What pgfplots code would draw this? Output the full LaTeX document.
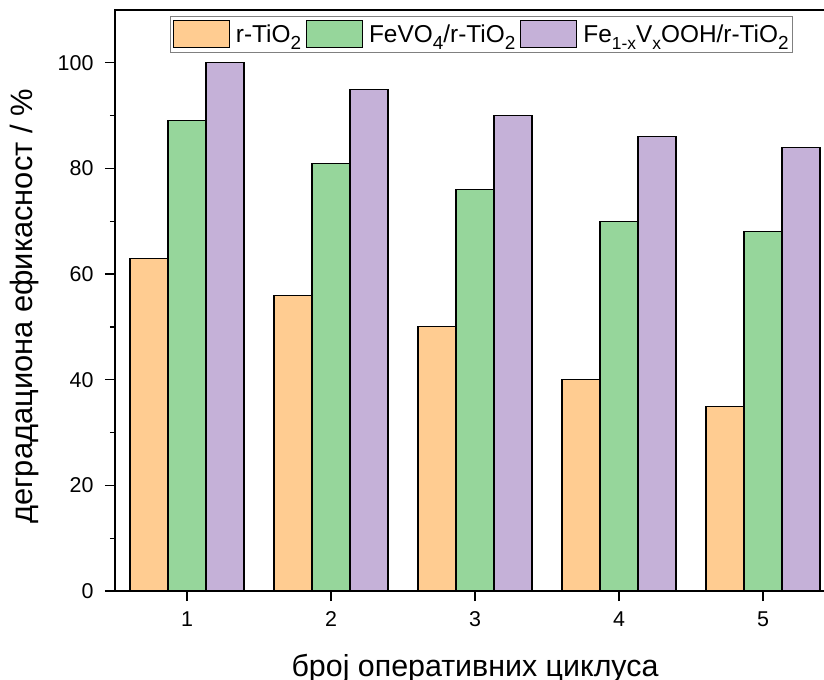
\documentclass[border=0pt]{standalone}
\usepackage{pgfplots}
\pgfplotsset{compat=1.18}
\usepackage{fontspec}
\setmainfont{Liberation Sans}
\definecolor{cor}{RGB}{255,204,145}
\definecolor{cgr}{RGB}{150,214,155}
\definecolor{cpu}{RGB}{197,177,216}
\newcommand{\sub}[1]{\raisebox{-0.3em}{\fontsize{19}{19}\selectfont #1}}
\newcommand{\subs}[1]{\raisebox{-0.3em}{\fontsize{17.5}{17.5}\selectfont #1}}
\begin{document}
\begin{tikzpicture}
\begin{axis}[
  at={(0,0)}, anchor=south west,
  scale only axis,
  width=720bp, height=581bp,
  xmin=0.5, xmax=5.5, ymin=0, ymax=110,
  xtick={1,2,3,4,5},
  ytick={0,20,40,60,80,100},
  minor ytick={10,30,50,70,90},
  xtick pos=bottom, ytick pos=left,
  tick align=outside,
  major tick length=10bp, minor tick length=5bp,
  every tick/.style={black, line width=1.2bp},
  axis line style={black, line width=1.3bp},
  /pgf/number format/assume math mode=true,
  tick label style={font=\fontsize{21.5}{25}\selectfont},
  xticklabel style={yshift=-7bp},
  yticklabel style={xshift=-8bp},
  xlabel={броj оперативних циклуса},
  ylabel={деградациона ефикасност / \%},
  xlabel style={font=\fontsize{30.5}{34}\selectfont, at={(axis description cs:0.5,-0.148)}, anchor=base},
  ylabel style={font=\fontsize{31}{34}\selectfont, at={(axis description cs:-0.114,0.49)}, anchor=base, rotate=0},
  ybar, bar width=0.264,
  legend columns=3,
  legend style={at={(0.9417,0.990)}, anchor=north east, draw=gray, line width=0.8bp,
    font=\fontsize{24.5}{27}\selectfont, inner xsep=2bp, inner ysep=4bp,
    nodes={inner xsep=2bp, inner ysep=1bp},
    /tikz/every odd column/.append style={column sep=4bp},
    /tikz/every even column/.append style={column sep=3bp}},
  legend image code/.code={\draw[#1, line width=1bp] (0bp,-13.5bp) rectangle (56bp,13.5bp);},
]
\addplot[fill=cor, draw=black, line width=1.1bp, bar shift=-0.264] coordinates {(1,63) (2,56) (3,50) (4,40) (5,35)};
\addplot[fill=cgr, draw=black, line width=1.1bp, bar shift=0] coordinates {(1,89) (2,81) (3,76) (4,70) (5,68)};
\addplot[fill=cpu, draw=black, line width=1.1bp, bar shift=0.264] coordinates {(1,100) (2,95) (3,90) (4,86) (5,84)};
\legend{r-TiO\sub{2}, FeVO\sub{4}/r-TiO\sub{2}, Fe\subs{1-x}V\subs{x}OOH/r-TiO\sub{2}}
\end{axis}
\pgfresetboundingbox
\path[use as bounding box] (-115bp,-89bp) rectangle (709bp,591bp);
\end{tikzpicture}
\end{document}
